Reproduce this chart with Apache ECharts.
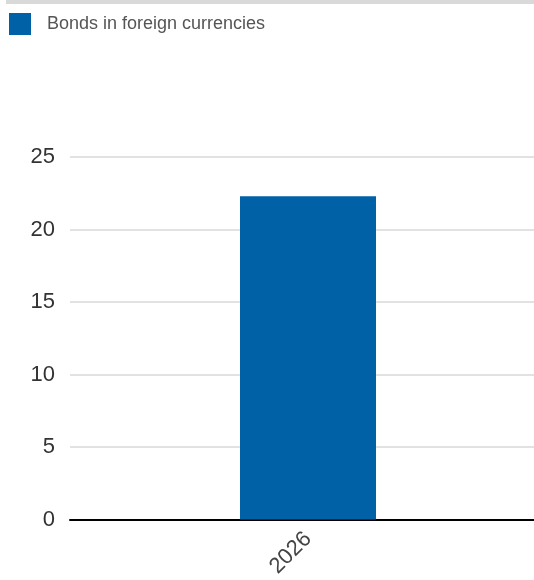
<!DOCTYPE html>
<html>
<head>
<meta charset="utf-8">
<script src="https://cdn.jsdelivr.net/npm/echarts@6/dist/echarts.min.js"></script>
<style>
html,body{margin:0;padding:0;background:#fff;overflow:hidden;width:534px;height:580px;}
#topbar{position:absolute;left:6px;top:0;width:528px;height:4px;background:#d9d9d9;}
#c{position:absolute;left:0;top:0;width:546px;height:580px;}
</style>
</head>
<body>
<div id="c"></div>
<div id="topbar"></div>
<script>
const categories = ['2026'];
const seriesName = 'Bonds in foreign currencies';
const values = [22.3];
const yTicks = { min: 0, max: 25, interval: 5 };

const chart = echarts.init(document.getElementById('c'), null, { renderer: 'canvas' });
const font = '"Liberation Sans", Arial, sans-serif';
chart.setOption({
  animation: false,
  textStyle: { fontFamily: font },
  legend: {
    left: 9, top: 13, padding: 0,
    itemWidth: 22, itemHeight: 22,
    icon: 'rect',
    textStyle: { fontSize: 18, color: '#555', fontFamily: font, padding: [5, 0, 0, 11] },
    data: [seriesName]
  },
  grid: { left: 70, right: 0, top: 157, bottom: 56, containLabel: false },
  xAxis: {
    type: 'category',
    data: categories,
    axisLine: { show: true, lineStyle: { color: '#000', width: 2 } },
    axisTick: { show: false },
    axisLabel: { rotate: 45, fontSize: 22, color: '#444', margin: 16, fontFamily: font },
    splitLine: { show: false }
  },
  yAxis: {
    type: 'value',
    min: yTicks.min, max: yTicks.max, interval: yTicks.interval,
    axisLine: { show: false },
    axisTick: { show: false },
    axisLabel: { fontSize: 22, color: '#333', margin: 15, fontFamily: font },
    splitLine: { lineStyle: { color: '#d9d9d9', width: 1.5 } }
  },
  series: [{
    name: seriesName,
    type: 'bar',
    data: values,
    barWidth: 136,
    itemStyle: { color: '#0061a6' }
  }]
});
</script>
</body>
</html>
